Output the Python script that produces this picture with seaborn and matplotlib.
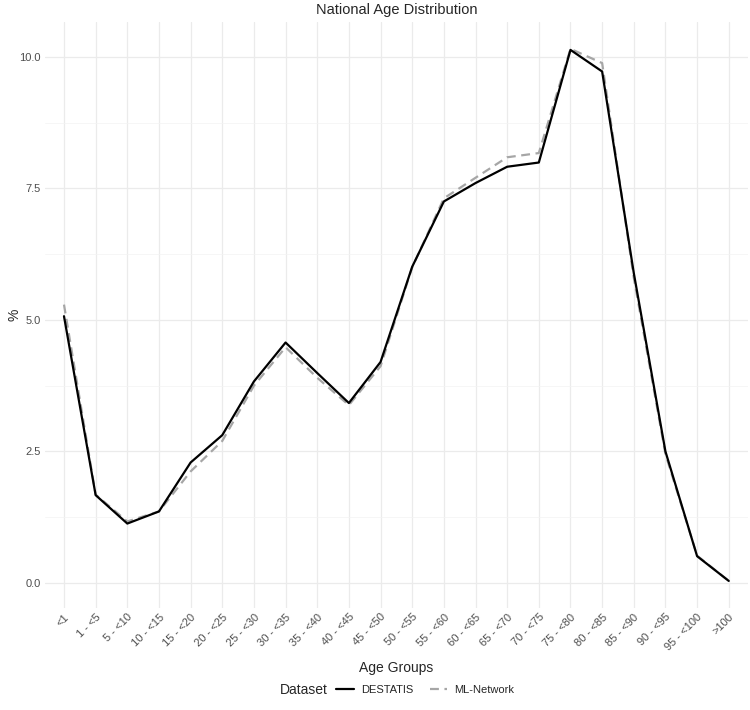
import pandas as pd
import seaborn as sns
import matplotlib.pyplot as plt
from matplotlib.lines import Line2D

age_groups = ["<1", "1 - <5", "5 - <10", "10 - <15", "15 - <20", "20 - <25",
              "25 - <30", "30 - <35", "35 - <40", "40 - <45", "45 - <50", "50 - <55",
              "55 - <60", "60 - <65", "65 - <70", "70 - <75", "75 - <80", "80 - <85",
              "85 - <90", "90 - <95", "95 - <100", ">100"]
destatis = [5.07, 1.67, 1.13, 1.36, 2.29, 2.81, 3.83, 4.57, 3.99, 3.42, 4.20, 6.01,
            7.25, 7.60, 7.91, 7.99, 10.13, 9.72, 5.89, 2.50, 0.51, 0.04]
ml_network = [5.29, 1.68, 1.17, 1.36, 2.12, 2.70, 3.75, 4.48, 3.90, 3.38, 4.12, 6.00,
              7.31, 7.70, 8.09, 8.17, 10.15, 9.88, 5.80, 2.45, 0.52, 0.04]
datasets = ["DESTATIS", "ML-Network"]

df = pd.DataFrame({
    "Age Groups": age_groups * 2,
    "%": destatis + ml_network,
    "Dataset": [datasets[0]] * len(age_groups) + [datasets[1]] * len(age_groups),
})
df["pos"] = list(range(len(age_groups))) * 2

sns.set_theme(style="whitegrid")
plt.rcParams["font.family"] = ["Liberation Sans", "DejaVu Sans"]

fig = plt.figure(figsize=(7.5, 7.1), dpi=100)
ax = fig.add_axes([0.06, 0.144, 0.937, 0.825])

colors = {"DESTATIS": "black", "ML-Network": "#A6A6A6"}
dashes = {"DESTATIS": "", "ML-Network": (4, 2.5)}
# draw gray dashed first so black sits on top
sns.lineplot(data=df, x="pos", y="%", hue="Dataset", style="Dataset",
             hue_order=datasets[::-1], style_order=datasets[::-1],
             palette=colors, dashes=dashes, linewidth=1.6, legend=False, ax=ax,
             sort=False)

ax.set_xlim(-0.6, len(age_groups) - 0.4)
ax.set_ylim(-0.47, 10.66)
ax.set_xticks(range(len(age_groups)))
ax.set_xticklabels(age_groups, rotation=45, ha="right", rotation_mode="anchor",
                   fontsize=8, color="#4D4D4D")
ax.set_yticks([0, 2.5, 5, 7.5, 10])
ax.set_yticklabels(["0.0", "2.5", "5.0", "7.5", "10.0"], fontsize=8, color="#4D4D4D")
ax.set_yticks([1.25, 3.75, 6.25, 8.75], minor=True)
ax.grid(True, which="major", color="#EBEBEB", linewidth=0.9)
ax.grid(True, which="minor", axis="y", color="#F3F3F3", linewidth=0.5)
ax.set_facecolor("white")
for s in ax.spines.values():
    s.set_visible(False)
ax.tick_params(axis="both", length=0, pad=3)

ax.set_xlabel("Age Groups", fontsize=10, labelpad=6)
ax.set_ylabel("%", fontsize=10)
ax.yaxis.set_label_coords(-0.034, 0.5)
ax.set_title("National Age Distribution", fontsize=10.5, pad=6)

handles = [Line2D([], [], color=colors[d], linewidth=1.6,
                  linestyle="-" if d == "DESTATIS" else (0, (4, 2.5))) for d in datasets]
fig.text(0.405, 0.028, "Dataset", fontsize=10, ha="center", va="center")
fig.legend(handles, datasets, loc="center left", bbox_to_anchor=(0.435, 0.028),
           ncol=2, frameon=False, fontsize=8, handlelength=1.6, columnspacing=1.5,
           handletextpad=0.6)

fig.savefig("out.png", dpi=100, facecolor="white")
